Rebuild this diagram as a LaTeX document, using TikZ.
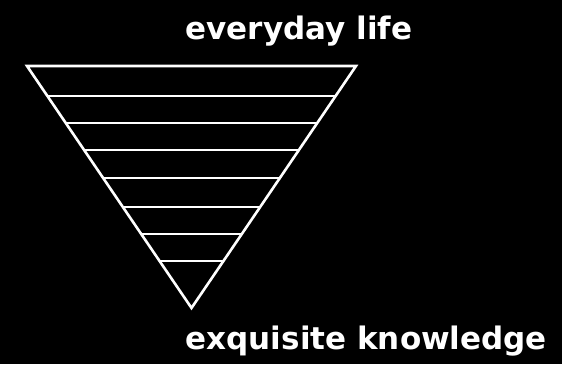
\documentclass[tikz,border=0pt]{standalone}
\usepackage{fontspec}
\setmainfont{DejaVu Sans}
\usepackage{tikz}
\usetikzlibrary{calc}

\begin{document}
\begin{tikzpicture}[
    x=1pt, y=1pt,
    caption/.style={text=white, font=\bfseries\fontsize{31}{37}\selectfont, inner sep=0pt, anchor=base west},
    rung/.style={white, line width=2.6pt}
]
    \fill[black] (0,0) rectangle (562,364);
    \useasboundingbox (0,0) rectangle (562,364);

    \coordinate (tl) at (27,298);
    \coordinate (tr) at (356,298);
    \coordinate (apex) at (191.5,56);

    \draw[rung, line join=miter] (tl) -- (tr) -- (apex) -- cycle;
    \draw[rung] ($(tl)!0.124!(apex)$) -- ($(tr)!0.124!(apex)$);
    \draw[rung] ($(tl)!0.236!(apex)$) -- ($(tr)!0.236!(apex)$);
    \draw[rung] ($(tl)!0.347!(apex)$) -- ($(tr)!0.347!(apex)$);
    \draw[rung] ($(tl)!0.463!(apex)$) -- ($(tr)!0.463!(apex)$);
    \draw[rung] ($(tl)!0.583!(apex)$) -- ($(tr)!0.583!(apex)$);
    \draw[rung] ($(tl)!0.694!(apex)$) -- ($(tr)!0.694!(apex)$);
    \draw[rung] ($(tl)!0.806!(apex)$) -- ($(tr)!0.806!(apex)$);

    \node[caption] (everyday) at (185.5,324) {everyday life};
    \node[caption] (exquisite) at (185.5,14) {exquisite knowledge};
\end{tikzpicture}
\end{document}
